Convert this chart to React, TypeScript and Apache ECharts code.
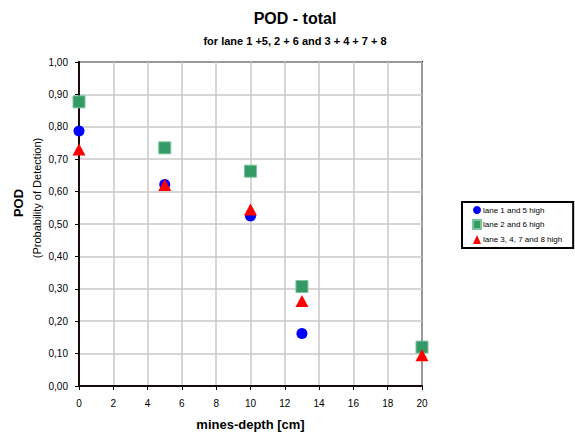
import React, { useEffect, useRef } from "react";
import * as echarts from "echarts";

const depths = [0, 5, 10, 13, 20];
const lane15 = [0.787, 0.622, 0.525, 0.162, 0.123];
const lane26 = [0.877, 0.735, 0.663, 0.307, 0.12];
const lane3478 = [0.73, 0.62, 0.545, 0.262, 0.095];
const seriesNames = ["lane 1 and 5 high", "lane 2 and 6 high", "lane 3, 4, 7 and 8 high"];

const FONT = "'Liberation Sans', Arial, Helvetica, sans-serif";

export default function App() {
  const ref = useRef<HTMLDivElement>(null);
  useEffect(() => {
    if (!ref.current) return;
    const chart = echarts.init(ref.current, null, { renderer: "svg" });
    const pts = (ys: number[]) => depths.map((x, i) => [x, ys[i]]);
    chart.setOption({
      animation: false,
      backgroundColor: "#ffffff",
      textStyle: { fontFamily: FONT },
      title: [
        {
          text: "POD - total",
          left: 290,
          top: 5,
          textAlign: "center",
          textStyle: { fontSize: 16, fontWeight: "bold", color: "#000", fontFamily: FONT },
        },
        {
          text: "for lane 1 +5, 2 + 6 and 3 + 4 + 7 + 8",
          left: 290,
          top: 30,
          textAlign: "center",
          textStyle: { fontSize: 11, fontWeight: "bold", color: "#000", fontFamily: FONT },
        },
      ],
      legend: {
        orient: "vertical",
        left: 462,
        top: 202,
        itemWidth: 8,
        itemHeight: 9,
        itemGap: 5,
        padding: [4, 11, 4, 10],
        borderColor: "#000",
        borderWidth: 2,
        backgroundColor: "#fff",
        textStyle: { fontSize: 8, color: "#000", fontFamily: FONT, padding: [0, 0, 0, -3] },
        data: seriesNames,
      },
      grid: {
        left: 79,
        right: 153,
        top: 62,
        bottom: 48,
        show: true,
        borderColor: "#1a0a0a",
        borderWidth: 2,
        containLabel: false,
      },
      xAxis: {
        type: "value",
        min: 0,
        max: 20,
        interval: 2,
        name: "mines-depth [cm]",
        nameLocation: "middle",
        nameGap: 32,
        nameTextStyle: { fontSize: 13, fontWeight: "bold", color: "#000", fontFamily: FONT },
        axisLine: { show: true, onZero: false, lineStyle: { color: "#1a0a0a", width: 2 } },
        axisTick: { show: true, length: 4, lineStyle: { color: "#000" } },
        axisLabel: { fontSize: 10, color: "#000", margin: 12 },
        splitLine: { show: true, lineStyle: { color: "#c8c8c8", width: 1.5 } },
      },
      yAxis: {
        type: "value",
        min: 0,
        max: 1,
        interval: 0.1,
        axisLine: { show: true, onZero: false, lineStyle: { color: "#1a0a0a", width: 2 } },
        axisTick: { show: true, length: 4, lineStyle: { color: "#000" } },
        axisLabel: {
          fontSize: 10,
          color: "#000",
          margin: 11,
          formatter: (v: number) => v.toFixed(2).replace(".", ","),
        },
        splitLine: { show: true, lineStyle: { color: "#c8c8c8", width: 1.5 } },
      },
      graphic: [
        {
          type: "text",
          x: 18,
          y: 203,
          rotation: Math.PI / 2,
          style: {
            text: "POD",
            fontSize: 13,
            fontWeight: "bold",
            fontFamily: FONT,
            fill: "#000",
            align: "center",
            verticalAlign: "middle",
          },
        },
        {
          type: "text",
          x: 37,
          y: 198,
          rotation: Math.PI / 2,
          style: {
            text: "(Probability of Detection)",
            fontSize: 11,
            fontFamily: FONT,
            fill: "#000",
            align: "center",
            verticalAlign: "middle",
          },
        },
      ],
      series: [
        {
          name: seriesNames[0],
          type: "scatter",
          symbol: "circle",
          symbolSize: 11,
          itemStyle: { color: "#0000ff", opacity: 1 },
          data: pts(lane15),
        },
        {
          name: seriesNames[1],
          type: "scatter",
          symbol: "rect",
          symbolSize: 12,
          itemStyle: { color: "#339966", borderColor: "#7cc49c", borderWidth: 1, opacity: 1 },
          data: pts(lane26),
        },
        {
          name: seriesNames[2],
          type: "scatter",
          symbol: "triangle",
          symbolSize: [13, 12],
          itemStyle: { color: "#ff0000", opacity: 1 },
          data: pts(lane3478),
        },
      ],
    });
    return () => chart.dispose();
  }, []);
  return (
    <div
      ref={ref}
      style={{ position: "absolute", left: 0, top: 0, width: 575, height: 436 }}
    />
  );
}
